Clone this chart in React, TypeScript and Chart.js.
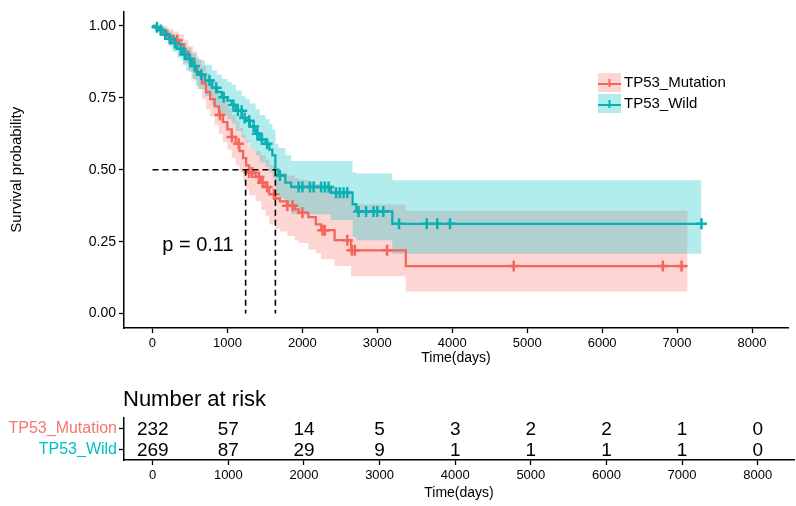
import React, { useEffect, useRef } from 'react';
import { Chart, registerables } from 'chart.js';
Chart.register(...registerables);

const RED = '#F8766D';
const TEAL = '#00BFC4';
const RED_LINE = '#F4665C';
const TEAL_LINE = '#0BB0B5';
const RED_FILL = 'rgba(248,118,109,0.3)';
const TEAL_FILL = 'rgba(0,191,196,0.3)';
const FONT = "'Liberation Sans', Arial, sans-serif";

const groups = ['TP53_Mutation', 'TP53_Wild'];

// TP53_Mutation step function (days, survival, lower CI, upper CI)
const mutTime = [0, 60, 130, 200, 280, 350, 420, 480, 540, 600, 660, 714, 770, 830, 886, 940, 1000, 1058, 1110, 1160, 1210, 1250, 1290, 1376, 1450, 1508, 1560, 1640, 1700, 1800, 1900, 1950, 2080, 2180, 2250, 2430, 2650, 3380, 7140];
const mutSurv = [1, 0.99, 0.98, 0.965, 0.95, 0.935, 0.91, 0.885, 0.86, 0.83, 0.8, 0.77, 0.745, 0.72, 0.69, 0.665, 0.64, 0.614, 0.59, 0.565, 0.54, 0.515, 0.49, 0.475, 0.455, 0.44, 0.415, 0.4, 0.39, 0.375, 0.362, 0.35, 0.335, 0.31, 0.29, 0.255, 0.22, 0.165, 0.165];
const mutLower = [1, 0.977, 0.962, 0.94, 0.92, 0.9, 0.87, 0.84, 0.81, 0.78, 0.745, 0.71, 0.685, 0.655, 0.625, 0.595, 0.57, 0.54, 0.515, 0.49, 0.46, 0.43, 0.41, 0.39, 0.36, 0.34, 0.31, 0.295, 0.285, 0.27, 0.255, 0.245, 0.222, 0.21, 0.19, 0.165, 0.13, 0.077, 0.077];
const mutUpper = [1, 1, 0.998, 0.99, 0.98, 0.97, 0.95, 0.93, 0.91, 0.885, 0.86, 0.835, 0.81, 0.79, 0.76, 0.74, 0.715, 0.69, 0.67, 0.645, 0.62, 0.6, 0.575, 0.565, 0.55, 0.535, 0.515, 0.5, 0.49, 0.48, 0.47, 0.465, 0.46, 0.45, 0.44, 0.42, 0.379, 0.357, 0.357];
const mutCensor = [330, 900, 1060, 1150, 1290, 1330, 1420, 1470, 1530, 1620, 1800, 1870, 2000, 2270, 2300, 2600, 2660, 2700, 3130, 4820, 6810, 7060];

// TP53_Wild step function
const wildTime = [0, 40, 100, 160, 220, 265, 330, 400, 450, 520, 580, 622, 700, 794, 860, 926, 1000, 1058, 1111, 1191, 1244, 1300, 1376, 1430, 1508, 1560, 1600, 1640, 1680, 1773, 1850, 2380, 2670, 2720, 3200, 7325];
const wildSurv = [1, 0.995, 0.985, 0.97, 0.955, 0.94, 0.92, 0.9, 0.885, 0.86, 0.84, 0.83, 0.81, 0.785, 0.77, 0.752, 0.74, 0.725, 0.705, 0.68, 0.67, 0.65, 0.625, 0.605, 0.59, 0.57, 0.55, 0.5, 0.48, 0.455, 0.44, 0.42, 0.38, 0.355, 0.312, 0.312];
const wildLower = [1, 0.985, 0.97, 0.95, 0.93, 0.91, 0.89, 0.865, 0.845, 0.815, 0.79, 0.78, 0.755, 0.725, 0.71, 0.69, 0.675, 0.66, 0.635, 0.61, 0.595, 0.575, 0.55, 0.525, 0.51, 0.49, 0.47, 0.42, 0.4, 0.375, 0.345, 0.325, 0.265, 0.255, 0.208, 0.208];
const wildUpper = [1, 1, 1, 0.99, 0.98, 0.97, 0.955, 0.94, 0.925, 0.905, 0.89, 0.88, 0.865, 0.845, 0.83, 0.815, 0.805, 0.795, 0.775, 0.755, 0.745, 0.73, 0.71, 0.69, 0.675, 0.66, 0.64, 0.59, 0.575, 0.55, 0.53, 0.53, 0.49, 0.487, 0.463, 0.463];
const wildCensor = [60, 110, 170, 230, 300, 380, 430, 500, 560, 650, 760, 850, 950, 1080, 1140, 1190, 1230, 1290, 1350, 1400, 1460, 1530, 1700, 1950, 2000, 2100, 2150, 2250, 2300, 2350, 2450, 2500, 2550, 2600, 2750, 2850, 2950, 3000, 3080, 3290, 3660, 3800, 3970, 7325];

const medianTimes = [1243, 1640];
const medianLevel = 0.5;
const pText = 'p = 0.11';
const pPos = { x: 130, y: 0.238 };

const xTicks = [0, 1000, 2000, 3000, 4000, 5000, 6000, 7000, 8000];
const yTicks = [0, 0.25, 0.5, 0.75, 1];
const X_MIN = -380;
const X_MAX = 8480;

const riskTimes = [0, 1000, 2000, 3000, 4000, 5000, 6000, 7000, 8000];
const riskMutation = [232, 57, 14, 5, 3, 2, 2, 1, 0];
const riskWild = [269, 87, 29, 9, 1, 1, 1, 1, 0];

function stepPoints(times: number[], vals: number[]) {
  const pts: { x: number; y: number }[] = [];
  for (let i = 0; i < times.length; i++) {
    if (i > 0) pts.push({ x: times[i], y: vals[i - 1] });
    pts.push({ x: times[i], y: vals[i] });
  }
  return pts;
}

function survAt(times: number[], vals: number[], t: number) {
  let v = vals[0];
  for (let i = 0; i < times.length; i++) {
    if (times[i] <= t) v = vals[i];
  }
  return v;
}

const axisCommon = {
  grid: { drawOnChartArea: false, tickLength: 5, tickColor: '#000', tickWidth: 1.3 },
  border: { color: '#000', width: 1.5 },
};

export default function App() {
  const mainRef = useRef<HTMLCanvasElement>(null);
  const riskRef = useRef<HTMLCanvasElement>(null);

  useEffect(() => {
    Chart.defaults.font.family = FONT;
    Chart.defaults.color = '#000';

    const annot = {
      id: 'annot',
      afterDatasetsDraw(chart: any) {
        const ctx = chart.ctx;
        const xs = chart.scales.x;
        const ys = chart.scales.y;
        ctx.save();
        ctx.fillStyle = '#000';
        ctx.font = `20px ${FONT}`;
        ctx.textAlign = 'left';
        ctx.textBaseline = 'middle';
        ctx.fillText(pText, xs.getPixelForValue(pPos.x), ys.getPixelForValue(pPos.y));
        // legend
        const cols = [RED_LINE, TEAL_LINE];
        const fills = [RED_FILL, TEAL_FILL];
        const lx = chart.chartArea.left + 474;
        groups.forEach((g, i) => {
          const y0 = 73 + i * 21;
          ctx.fillStyle = fills[i];
          ctx.fillRect(lx, y0, 23, 19);
          ctx.strokeStyle = cols[i];
          ctx.lineWidth = 2;
          ctx.beginPath();
          ctx.moveTo(lx, y0 + 11);
          ctx.lineTo(lx + 23, y0 + 11);
          ctx.moveTo(lx + 11.5, y0 + 6);
          ctx.lineTo(lx + 11.5, y0 + 14);
          ctx.stroke();
          ctx.fillStyle = '#000';
          ctx.font = `15px ${FONT}`;
          ctx.textBaseline = 'middle';
          ctx.fillText(g, lx + 26, y0 + 10);
        });
        ctx.restore();
      },
    };

    const dashed = (pts: { x: number; y: number }[]) => ({
      data: pts,
      borderColor: '#000',
      borderWidth: 1.6,
      borderDash: [6, 4],
      pointRadius: 0,
      fill: false,
      order: -1,
    });

    const main = new Chart(mainRef.current!, {
      type: 'line',
      data: {
        datasets: [
          {
            data: wildCensor.map((t) => ({ x: t, y: survAt(wildTime, wildSurv, t) })),
            showLine: false,
            pointStyle: 'cross',
            pointRadius: 5.5,
            pointBorderWidth: 2.5,
            pointBorderColor: TEAL_LINE,
            borderColor: TEAL_LINE,
            order: 0,
          },
          {
            data: mutCensor.map((t) => ({ x: t, y: survAt(mutTime, mutSurv, t) })),
            showLine: false,
            pointStyle: 'cross',
            pointRadius: 5.5,
            pointBorderWidth: 2.5,
            pointBorderColor: RED_LINE,
            borderColor: RED_LINE,
            order: 1,
          },
          { data: stepPoints(wildTime, wildSurv), borderColor: TEAL_LINE, borderWidth: 2.3, pointRadius: 0, fill: false, order: 2 },
          { data: stepPoints(mutTime, mutSurv), borderColor: RED_LINE, borderWidth: 2.3, pointRadius: 0, fill: false, order: 3 },
          dashed([{ x: 0, y: medianLevel }, { x: Math.max(...medianTimes), y: medianLevel }]),
          dashed([{ x: medianTimes[0], y: medianLevel }, { x: medianTimes[0], y: 0 }]),
          dashed([{ x: medianTimes[1], y: medianLevel }, { x: medianTimes[1], y: 0 }]),
          { data: stepPoints(wildTime, wildUpper), borderWidth: 0, pointRadius: 0, fill: false, order: 5 },
          { data: stepPoints(wildTime, wildLower), borderWidth: 0, pointRadius: 0, fill: '-1', backgroundColor: TEAL_FILL, order: 5 },
          { data: stepPoints(mutTime, mutUpper), borderWidth: 0, pointRadius: 0, fill: false, order: 6 },
          { data: stepPoints(mutTime, mutLower), borderWidth: 0, pointRadius: 0, fill: '-1', backgroundColor: RED_FILL, order: 6 },
        ] as any,
      },
      options: {
        responsive: false,
        animation: false,
        layout: { padding: { top: 0, right: 2, left: 0, bottom: 0 } },
        plugins: { legend: { display: false }, tooltip: { enabled: false } },
        elements: { line: { tension: 0 } },
        scales: {
          x: {
            type: 'linear',
            min: X_MIN,
            max: X_MAX,
            ...axisCommon,
            afterBuildTicks: (s: any) => {
              s.ticks = xTicks.map((v) => ({ value: v }));
            },
            ticks: { font: { size: 13 }, color: '#000', padding: 3, maxRotation: 0, autoSkip: false, callback: (v: any) => String(v) },
            title: { display: true, text: 'Time(days)', font: { size: 14 }, color: '#000', padding: { top: 4, bottom: 5 } },
            afterFit: (s: any) => {
              s.height = 44;
            },
          },
          y: {
            type: 'linear',
            min: -0.05,
            max: 1.05,
            ...axisCommon,
            afterBuildTicks: (s: any) => {
              s.ticks = yTicks.map((v) => ({ value: v }));
            },
            ticks: { font: { size: 14 }, color: '#000', padding: 3, autoSkip: false, callback: (v: any) => Number(v).toFixed(2) },
            title: { display: true, text: 'Survival probability', font: { size: 15 }, color: '#000', padding: { top: 8, bottom: 4 } },
            afterFit: (s: any) => {
              s.width = 124;
            },
          },
        },
      } as any,
      plugins: [annot],
    });

    const riskPlugin = {
      id: 'riskText',
      afterDatasetsDraw(chart: any) {
        const ctx = chart.ctx;
        const xs = chart.scales.x;
        const ys = chart.scales.y;
        ctx.save();
        ctx.fillStyle = '#000';
        ctx.font = `22px ${FONT}`;
        ctx.textAlign = 'left';
        ctx.textBaseline = 'alphabetic';
        ctx.fillText('Number at risk', chart.chartArea.left - 1, 34);
        ctx.font = `19px ${FONT}`;
        ctx.textAlign = 'center';
        ctx.textBaseline = 'middle';
        [riskMutation, riskWild].forEach((row, i) => {
          row.forEach((n, j) => {
            ctx.fillText(String(n), xs.getPixelForValue(riskTimes[j]), ys.getPixelForValue(i) + 1);
          });
        });
        ctx.restore();
      },
    };

    const risk = new Chart(riskRef.current!, {
      type: 'scatter',
      data: { datasets: [{ data: [] }] },
      options: {
        responsive: false,
        animation: false,
        layout: { padding: { top: 46, right: 2, left: 0, bottom: 0 } },
        plugins: { legend: { display: false }, tooltip: { enabled: false } },
        scales: {
          x: {
            type: 'linear',
            min: X_MIN,
            max: X_MAX,
            ...axisCommon,
            afterBuildTicks: (s: any) => {
              s.ticks = riskTimes.map((v) => ({ value: v }));
            },
            ticks: { font: { size: 13 }, color: '#000', padding: 3, maxRotation: 0, autoSkip: false, callback: (v: any) => String(v) },
            title: { display: true, text: 'Time(days)', font: { size: 14 }, color: '#000', padding: { top: 4, bottom: 4 } },
            afterFit: (s: any) => {
              s.height = 46;
            },
          },
          y: {
            type: 'category',
            labels: groups,
            offset: true,
            ...axisCommon,
            ticks: {
              font: { size: 16 },
              padding: 2,
              autoSkip: false,
              color: (c: any) => (c.index === 0 ? RED : TEAL),
            },
            afterFit: (s: any) => {
              s.width = 124;
            },
          },
        },
      } as any,
      plugins: [riskPlugin],
    });

    return () => {
      main.destroy();
      risk.destroy();
    };
  }, []);

  return (
    <div style={{ position: 'absolute', left: 0, top: 0, width: 796, height: 506, background: '#fff' }}>
      <canvas ref={mainRef} width={796} height={372} style={{ display: 'block', width: 796, height: 372 }} />
      <canvas ref={riskRef} width={796} height={134} style={{ display: 'block', width: 796, height: 134 }} />
    </div>
  );
}
